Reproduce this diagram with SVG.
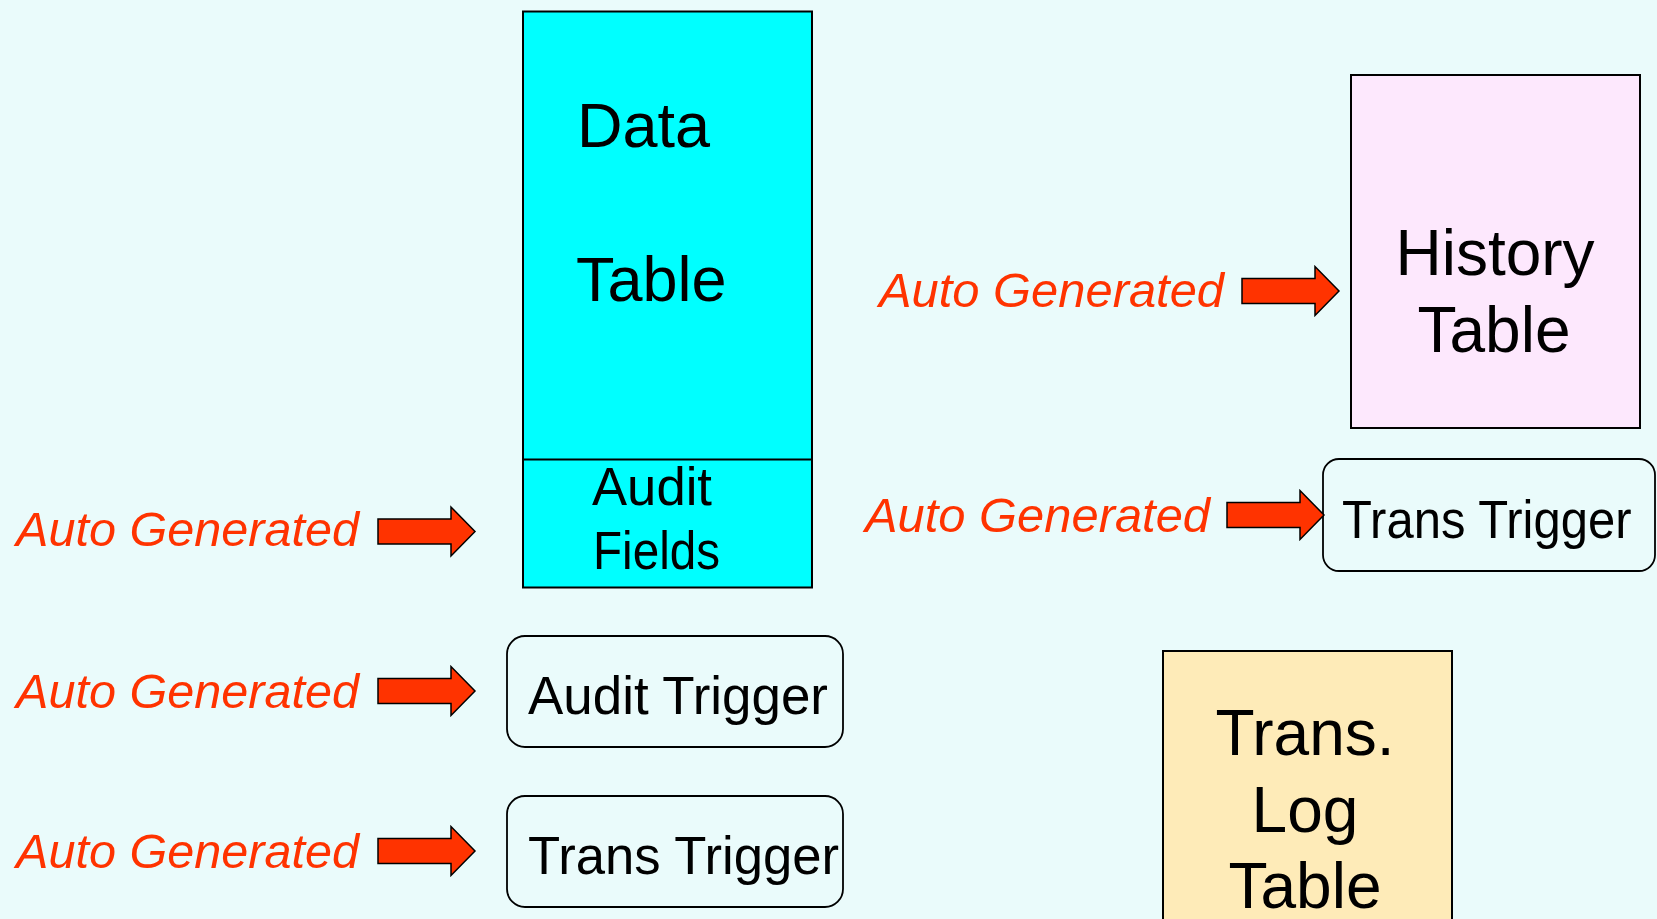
<svg xmlns="http://www.w3.org/2000/svg" width="1657" height="919" viewBox="0 0 1657 919">
  <style>
    .tbl { stroke: #000; stroke-width: 2; }
    .trig { fill: #EAFBFB; stroke: #000; stroke-width: 1.8; }
    .big { font-family: "Liberation Sans", Arial, sans-serif; font-size: 63px; fill: #000; }
    .big64 { font-size: 64px; }
    .mid { font-family: "Liberation Sans", Arial, sans-serif; font-size: 54px; fill: #000; }
    .auto { font-family: "Liberation Sans", Arial, sans-serif; font-size: 49px; font-style: italic; fill: #FF3300; }
    .arrow { fill: #FF3300; stroke: #000; stroke-width: 1.5; stroke-linejoin: miter; }
  </style>
  <defs>
    <!-- block arrow, origin at the middle of the shaft's tail -->
    <path id="blockArrow" d="M0,-12.5 H73 V-24.5 L97,0 L73,24.5 V12.5 H0 Z"/>
  </defs>

  <rect x="0" y="0" width="1657" height="919" fill="#EAFBFB"/>

  <g id="data-table">
    <rect class="tbl" x="523" y="11.5" width="289" height="576" fill="#00FFFF"/>
    <text class="big" x="577" y="147">Data</text>
    <text class="big" x="576" y="301">Table</text>
  </g>

  <g id="audit-fields">
    <line class="tbl" x1="523" y1="459.5" x2="812" y2="459.5"/>
    <text class="mid" x="592" y="505" textLength="120" lengthAdjust="spacingAndGlyphs">Audit</text>
    <text class="mid" x="593" y="569" textLength="127" lengthAdjust="spacingAndGlyphs">Fields</text>
  </g>

  <g id="audit-trigger">
    <rect class="trig" x="507" y="636" width="336" height="111" rx="18"/>
    <text class="mid" x="528" y="714" textLength="300" lengthAdjust="spacingAndGlyphs">Audit Trigger</text>
  </g>

  <g id="trans-trigger-left">
    <rect class="trig" x="507" y="796" width="336" height="111" rx="18"/>
    <text class="mid" x="528" y="874" textLength="311" lengthAdjust="spacingAndGlyphs">Trans Trigger</text>
  </g>

  <g id="history-table">
    <rect class="tbl" x="1351" y="75" width="289" height="353" fill="#FDE8FD"/>
    <text class="big big64" x="1495" y="275" text-anchor="middle">History</text>
    <text class="big big64" x="1494" y="352" text-anchor="middle">Table</text>
  </g>

  <g id="trans-trigger-right">
    <rect class="trig" x="1323" y="459" width="332" height="112" rx="16"/>
    <!-- narrower glyphs stretched to the same cap height as the other trigger labels -->
    <text class="mid" style="font-size:49px" transform="translate(1342,538) scale(1,1.1)">Trans Trigger</text>
  </g>

  <g id="trans-log-table">
    <rect class="tbl" x="1163" y="651" width="289" height="280" fill="#FEEBB8"/>
    <text class="big big64" x="1305" y="755" text-anchor="middle">Trans.</text>
    <text class="big big64" x="1305" y="832" text-anchor="middle">Log</text>
    <text class="big big64" x="1305" y="908" text-anchor="middle">Table</text>
  </g>

  <g id="labels">
    <text class="auto" x="16" y="546" textLength="343" lengthAdjust="spacingAndGlyphs">Auto Generated</text>
    <text class="auto" x="16" y="708" textLength="343" lengthAdjust="spacingAndGlyphs">Auto Generated</text>
    <text class="auto" x="16" y="868" textLength="343" lengthAdjust="spacingAndGlyphs">Auto Generated</text>
    <text class="auto" x="879" y="307" textLength="345" lengthAdjust="spacingAndGlyphs">Auto Generated</text>
    <text class="auto" x="865" y="532" textLength="345" lengthAdjust="spacingAndGlyphs">Auto Generated</text>
  </g>

  <g id="connectors">
    <use href="#blockArrow" class="arrow" transform="translate(378,531.5)"/>
    <use href="#blockArrow" class="arrow" transform="translate(378,691)"/>
    <use href="#blockArrow" class="arrow" transform="translate(378,851)"/>
    <use href="#blockArrow" class="arrow" transform="translate(1242,291)"/>
    <use href="#blockArrow" class="arrow" transform="translate(1227,515)"/>
  </g>
</svg>
